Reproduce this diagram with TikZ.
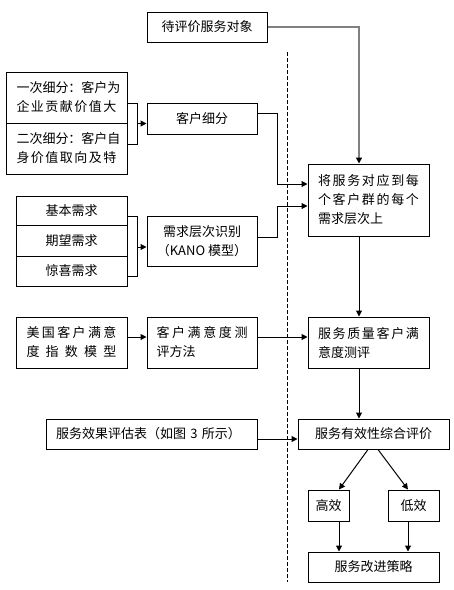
\documentclass[tikz,border=0pt]{standalone}
\usepackage{fontspec}
\setmainfont{Noto Sans CJK SC}
\usetikzlibrary{arrows.meta,calc}
\def\spreadchars#1#2{#1\ifx#2\relax\else\hfil\expandafter\spreadchars\expandafter#2\fi}
\def\spreadline#1#2{\makebox[#1][s]{\spreadchars#2\relax}}
\begin{document}
\begin{tikzpicture}[x=0.75pt,y=-0.75pt,
  box/.style={draw, line width=0.75pt, inner sep=0pt, font=\fontsize{9.75}{14.25}\selectfont},
  arr/.style={-{Triangle[length=4.5pt,width=4.5pt]}, line width=0.75pt},
  grayarr/.style={-{Triangle[length=4.5pt,width=4.5pt,color=black]}, line width=1.3pt, draw=gray},
  plain/.style={line width=0.75pt},
  divider/.style={line width=0.75pt, dash pattern=on 3pt off 1.5pt},
]
\useasboundingbox (0,0) rectangle (454,590);

% nodes
\node[box, minimum width=90pt, minimum height=22.5pt] (obj) at (207,27) {待评价服务对象};
\node[box, minimum width=90.75pt, minimum height=38.25pt, text width=75pt, align=left] (seg1) at (66.5,97.5)
  {\spreadline{75pt}{一次细分：客户为}\\\spreadline{75pt}{企业贡献价值大}};
\node[box, minimum width=90.75pt, minimum height=38.25pt, text width=75pt, align=left] (seg2) at (66.5,148.5)
  {\spreadline{75pt}{二次细分：客户自}\\\spreadline{75pt}{身价值取向及特}};
\node[box, minimum width=82.5pt, minimum height=23.25pt] (kh) at (202,118.5) {客户细分};
\node[box, minimum width=83.25pt, minimum height=21.75pt] (n1) at (71.5,210.5) {基本需求};
\node[box, minimum width=83.25pt, minimum height=23.25pt] (n2) at (71.5,240.5) {期望需求};
\node[box, minimum width=83.25pt, minimum height=22.5pt] (n3) at (71.5,271) {惊喜需求};
\node[box, minimum width=82.5pt, minimum height=37.5pt, align=center] (kano) at (202,241)
  {需求层次识别\\（KANO 模型）};
\node[box, minimum width=90.75pt, minimum height=54pt, text width=75.75pt, align=left] (big) at (368.5,200)
  {\spreadline{75.75pt}{将服务对应到每}\\\spreadline{75.75pt}{个客户群的每个}\\需求层次上};
\node[box, minimum width=83.25pt, minimum height=38.25pt, text width=67.5pt, align=left] (acsi) at (71.5,342.5)
  {\spreadline{67.5pt}{美国客户满意}\\\spreadline{67.5pt}{度指数模型}};
\node[box, minimum width=82.5pt, minimum height=38.25pt, text width=68.25pt, align=left] (csm) at (202,342.5)
  {\spreadline{68.25pt}{客户满意度测}\\评方法};
\node[box, minimum width=90.75pt, minimum height=38.25pt, text width=75.75pt, align=left] (sq) at (368.5,342.5)
  {\spreadline{75.75pt}{服务质量客户满}\\意度测评};
\node[box, minimum width=158.25pt, minimum height=22.5pt, text width=143.25pt, align=left] (eval) at (151.5,434)
  {服务效果评估表（如图 3 所示）};
\node[box, minimum width=113.25pt, minimum height=22.5pt] (se) at (373.5,434) {服务有效性综合评价};
\node[box, minimum width=30.75pt, minimum height=23.25pt] (hi) at (328.5,505.5) {高效};
\node[box, minimum width=38.25pt, minimum height=23.25pt] (lo) at (413.5,505.5) {低效};
\node[box, minimum width=98.25pt, minimum height=22.5pt] (imp) at (373.5,567) {服务改进策略};

% dashed divider
\coordinate (dtop) at (287,52);
\coordinate (dbot) at (287,582);
\draw[divider] (dtop) -- (dbot);

% connectors
\draw[grayarr] (obj.east) -| ($(big.north)+(-9.5,0)$);

\draw[plain] ($(seg1.east)+(0,5.5)$) -- ++(10,0) |- ($(seg2.east)+(0,-4.5)$);
\coordinate (brA) at ($(seg1.south east)+(10,0)$);
\draw[arr] (brA) -- (brA -| kh.west);

\draw[plain] ($(n1.east)+(0,5.5)$) -- ++(10,0) |- ($(n3.east)+(0,5)$);
\coordinate (brB) at ($(n2.east)+(10,6.5)$);
\draw[arr] (brB) -- (brB -| kano.west);

\draw[arr] ($(kh.east)+(0,-5)$) -- ++(20,0) |- ($(big.west)+(0,-16)$);
\draw[arr] ($(kano.east)+(0,-4)$) -- ++(20,0) |- ($(big.west)+(0,6)$);

\draw[arr] ($(acsi.east)+(0,-5.5)$) -- ($(csm.west)+(0,-5.5)$);
\draw[arr] ($(csm.east)+(0,-5.5)$) -- ($(sq.west)+(0,-5.5)$);

\coordinate (p1) at ($(big.south)+(-9.5,0)$);
\draw[arr] (p1) -- (p1 |- sq.north);
\coordinate (p2) at ($(sq.south)+(-9.5,0)$);
\draw[arr] (p2) -- (p2 |- se.north);

\draw[arr] ($(eval.east)+(0,5)$) -- ($(se.west)+(0,5)$);

\draw[arr] ($(se.south)+(-5.5,0)$) -- ($(hi.north)+(10.5,0)$);
\draw[arr] ($(se.south)+(4.5,0)$) -- ($(lo.north)+(-5.5,0)$);

\coordinate (p3) at ($(hi.south)+(10.5,0)$);
\draw[arr] (p3) -- (p3 |- imp.north);
\coordinate (p4) at ($(lo.south)+(-5.5,0)$);
\draw[arr] (p4) -- (p4 |- imp.north);
\end{tikzpicture}
\end{document}
